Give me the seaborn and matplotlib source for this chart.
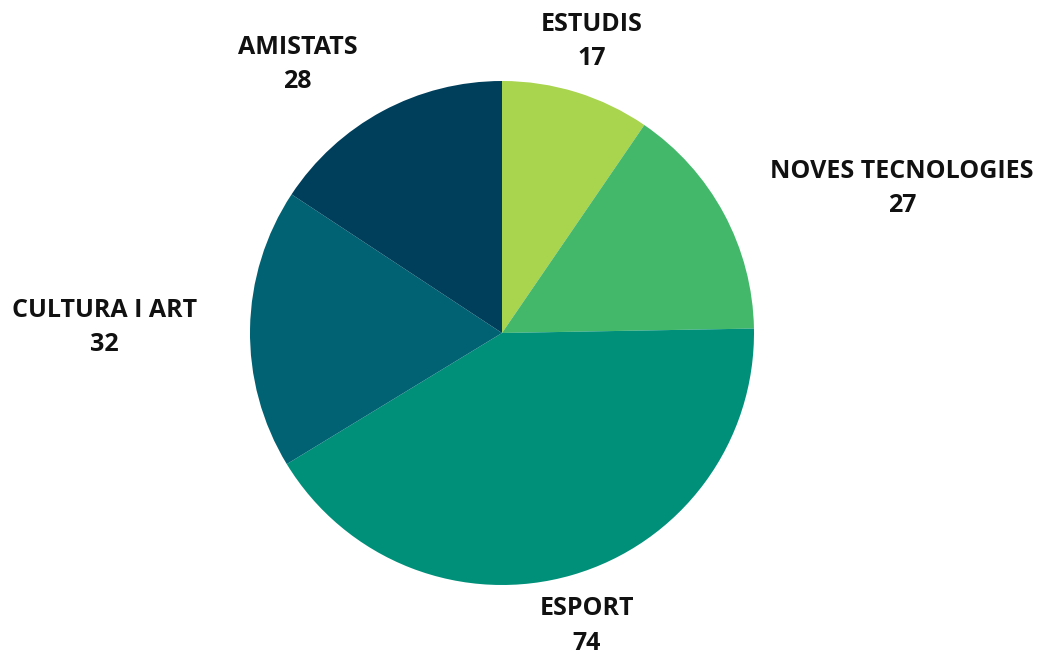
import matplotlib
matplotlib.use("Agg")
import matplotlib.pyplot as plt
import seaborn as sns

# data
categories = ['ESTUDIS', 'NOVES TECNOLOGIES', 'ESPORT', 'CULTURA I ART', 'AMISTATS']
values = [17, 27, 74, 32, 28]
colors = ['#a8d44e', '#43b86b', '#00907a', '#006272', '#003f5c']

sns.set_theme(style='white')
plt.rcParams['font.family'] = ['Open Sans', 'DejaVu Sans']

W, H = 1039, 655
fig = plt.figure(figsize=(W / 100, H / 100), dpi=100)

# pie centre at (502, 333) px, radius ~252 px
R = 252
lim = 1.25
side = 2 * lim * R
cx, cy = 502, H - 333
ax = fig.add_axes([(cx - side / 2) / W, (cy - side / 2) / H, side / W, side / H])

labels = [f'{c}\n{v}' for c, v in zip(categories, values)]
wedges, texts = ax.pie(values, labels=labels, colors=colors, startangle=90,
                       counterclock=False, labeldistance=1.21,
                       wedgeprops=dict(linewidth=0),
                       textprops=dict(fontsize=18, fontweight='bold',
                                      color='#111111', linespacing=1.5,
                                      multialignment='center'))
for t in texts:
    x, y = t.get_position()
    t.set_va('center')
    if abs(x) < 0.4:
        t.set_ha('center')

ax.set_xlim(-lim, lim)
ax.set_ylim(-lim, lim)
ax.set_aspect('equal')
ax.axis('off')

fig.savefig('out.png', dpi=100)
